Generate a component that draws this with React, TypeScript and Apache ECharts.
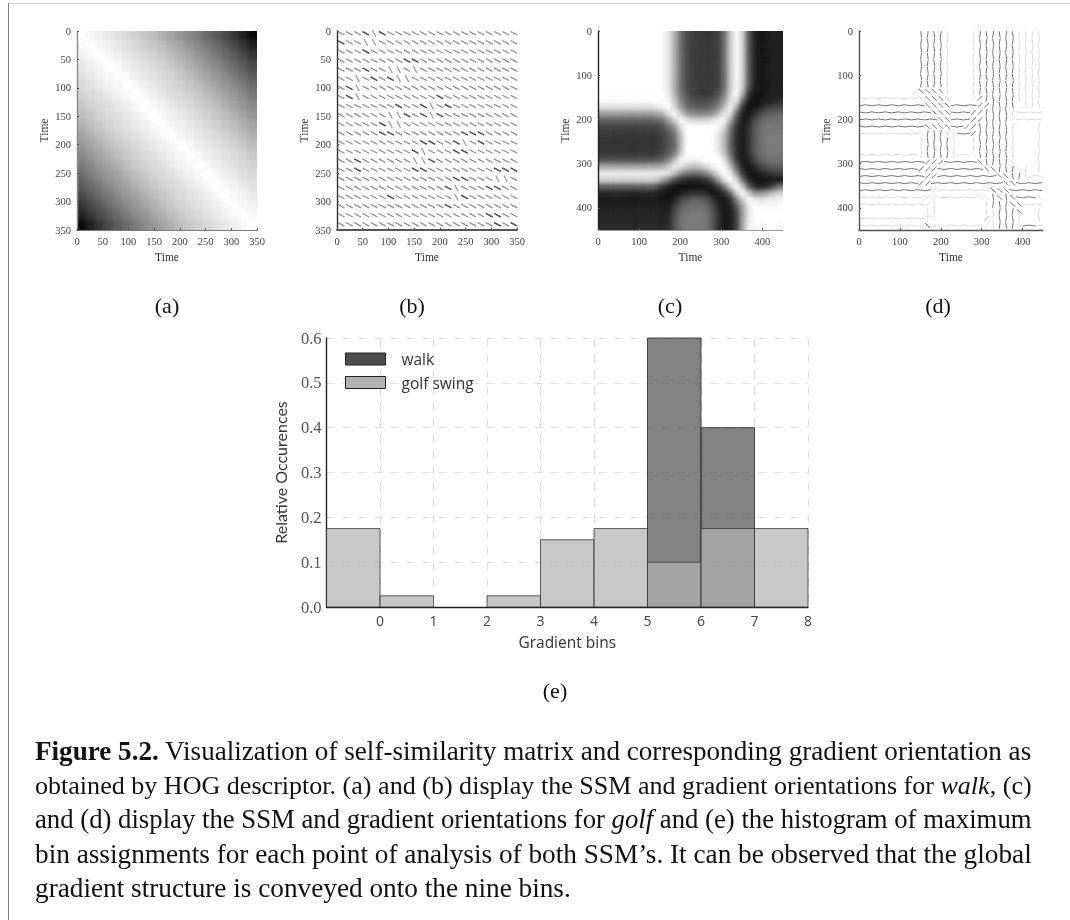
import React, { useEffect, useRef } from "react";
import * as echarts from "echarts";

// Panel (a): SSM for walk, lightness 0-100, cells of 17.5 time units
const ssmWalk = [
  [100,97,94,91,88,85,82,78,74,69,64,59,54,48,42,36,29,21,13,4],
  [97,100,97,94,91,88,85,82,78,74,69,64,59,54,48,42,36,29,21,13],
  [94,97,100,97,94,91,88,85,82,78,74,69,64,59,54,48,42,36,29,21],
  [91,94,97,100,97,94,91,88,85,82,78,74,69,64,59,54,48,42,36,29],
  [88,91,94,97,100,97,94,91,88,85,82,78,74,69,64,59,54,48,42,36],
  [85,88,91,94,97,100,97,94,91,88,85,82,78,74,69,64,59,54,48,42],
  [82,85,88,91,94,97,100,97,94,91,88,85,82,78,74,69,64,59,54,48],
  [78,82,85,88,91,94,97,100,97,94,91,88,85,82,78,74,69,64,59,54],
  [74,78,82,85,88,91,94,97,100,97,94,91,88,85,82,78,74,69,64,59],
  [69,74,78,82,85,88,91,94,97,100,97,94,91,88,85,82,78,74,69,64],
  [64,69,74,78,82,85,88,91,94,97,100,97,94,91,88,85,82,78,74,69],
  [59,64,69,74,78,82,85,88,91,94,97,100,97,94,91,88,85,82,78,74],
  [54,59,64,69,74,78,82,85,88,91,94,97,100,97,94,91,88,85,82,78],
  [48,54,59,64,69,74,78,82,85,88,91,94,97,100,97,94,91,88,85,82],
  [42,48,54,59,64,69,74,78,82,85,88,91,94,97,100,97,94,91,88,85],
  [36,42,48,54,59,64,69,74,78,82,85,88,91,94,97,100,97,94,91,88],
  [29,36,42,48,54,59,64,69,74,78,82,85,88,91,94,97,100,97,94,91],
  [21,29,36,42,48,54,59,64,69,74,78,82,85,88,91,94,97,100,97,94],
  [13,21,29,36,42,48,54,59,64,69,74,78,82,85,88,91,94,97,100,97],
  [4,13,21,29,36,42,48,54,59,64,69,74,78,82,85,88,91,94,97,100],
];

// Panel (c): SSM for golf swing, lightness 0-100, cells of 15 time units
const ssmGolf = [
  [100,100,100,100,100,100,100,100,100,100,98,90,68,42,28,24,22,22,22,25,42,78,98,82,35,12,8,10,12,12],
  [100,100,100,100,100,100,100,100,100,100,98,90,68,42,28,24,22,22,22,25,42,78,98,82,35,12,8,10,12,12],
  [100,100,100,100,100,100,100,100,100,100,98,90,68,42,28,24,22,22,22,25,42,78,98,82,35,12,8,10,12,12],
  [100,100,100,100,100,100,100,100,100,100,98,90,68,42,28,24,22,22,22,25,42,78,98,82,35,12,8,10,12,12],
  [100,100,100,100,100,100,100,100,100,100,98,90,68,42,28,24,22,22,22,25,42,78,98,82,35,12,8,10,12,12],
  [100,100,100,100,100,100,100,100,100,100,98,90,68,42,28,24,22,22,22,25,42,78,98,82,35,12,8,10,12,12],
  [100,100,100,100,100,100,100,100,100,100,98,90,68,42,28,24,22,22,22,25,42,78,98,82,35,12,8,10,12,12],
  [100,100,100,100,100,100,100,100,100,100,98,90,68,42,28,24,22,22,22,25,42,78,98,82,35,12,8,10,12,12],
  [100,100,100,100,100,100,100,100,100,100,98,90,68,42,28,24,22,22,22,25,42,78,98,80,32,10,8,10,12,12],
  [100,100,100,100,100,100,100,100,100,100,100,92,70,45,30,25,22,22,24,30,48,82,98,70,20,8,6,10,12,12],
  [98,98,98,98,98,98,98,98,98,100,100,95,78,52,36,30,28,28,32,40,58,88,92,45,12,6,8,10,14,16],
  [88,88,88,88,88,88,88,88,88,90,95,100,82,60,44,38,36,36,40,50,72,95,70,22,6,8,14,22,26,28],
  [62,62,62,62,62,62,62,62,62,65,70,88,100,78,60,55,52,52,56,70,90,90,42,12,8,18,28,36,38,38],
  [38,38,38,38,38,38,38,38,38,40,46,62,82,100,88,84,84,84,88,94,96,68,28,10,14,28,38,42,44,44],
  [26,26,26,26,26,26,26,26,26,27,32,46,60,88,100,100,100,100,100,98,85,50,20,10,18,34,42,46,46,46],
  [22,22,22,22,22,22,22,22,22,22,27,35,48,78,100,100,100,100,100,92,75,42,18,10,20,36,44,47,47,47],
  [20,20,20,20,20,20,20,20,20,20,25,32,42,74,100,100,100,100,100,90,72,40,18,10,20,36,44,48,48,48],
  [20,20,20,20,20,20,20,20,20,20,25,32,42,74,100,100,100,100,100,90,72,40,18,10,20,36,44,48,48,48],
  [22,22,22,22,22,22,22,22,22,22,27,36,50,80,100,100,100,100,100,94,78,45,18,10,18,34,42,46,46,46],
  [32,32,32,32,32,32,32,32,32,34,40,54,76,96,96,94,96,100,100,100,90,58,24,10,14,28,38,42,44,44],
  [65,65,65,65,65,65,65,65,65,66,68,78,92,88,78,74,76,84,94,100,98,75,38,12,8,16,26,34,36,36],
  [92,92,92,92,92,92,92,92,92,92,92,90,75,55,45,42,44,52,68,88,100,92,60,22,8,8,12,18,22,24],
  [82,82,82,82,82,82,82,82,82,78,65,48,30,20,16,14,14,20,32,58,85,100,85,45,16,8,6,8,10,10],
  [38,38,38,38,38,38,38,38,38,34,22,12,8,6,6,6,6,8,12,24,48,80,100,78,38,18,12,18,30,45],
  [14,14,14,14,14,14,14,14,14,12,8,6,6,10,16,18,18,16,8,8,18,40,80,100,78,58,58,66,76,82],
  [10,10,10,10,10,10,10,10,10,10,8,8,14,28,35,38,38,34,24,10,8,18,50,80,100,92,90,92,94,96],
  [12,12,12,12,12,12,12,12,12,12,10,12,24,36,42,44,44,42,32,16,8,12,34,66,92,100,98,98,98,98],
  [14,14,14,14,14,14,14,14,14,14,12,14,30,42,46,47,48,46,36,20,8,10,28,62,90,100,100,100,100,100],
  [14,14,14,14,14,14,14,14,14,14,12,16,32,44,47,48,48,46,36,20,8,10,26,64,92,98,100,100,100,100],
  [16,16,16,16,16,16,16,16,16,16,14,18,32,44,47,48,48,46,36,20,8,10,26,66,94,98,98,100,100,96],
];

// Panel (b): gradient glyph per cell. 0 normal, 1 dark, 2 steep
const gradWalk = [
  [0,0,0,1,2,1,0,0,0,0,0,0,0,0,0,0,0,0,0,0,0,0],
  [1,0,0,2,2,0,0,0,0,0,0,0,0,0,0,0,0,0,0,0,0,0],
  [0,0,0,1,0,0,0,0,0,0,0,0,0,0,0,0,0,0,0,0,0,0],
  [0,0,0,0,0,0,0,0,1,1,0,0,0,0,0,0,0,0,0,0,0,0],
  [0,0,0,1,0,0,2,2,0,2,0,0,0,0,0,0,0,0,0,0,0,0],
  [0,0,2,0,1,0,1,2,2,0,0,0,0,0,0,0,0,0,0,0,0,0],
  [0,1,2,0,0,0,0,0,0,0,0,0,0,0,0,0,0,0,0,0,0,0],
  [0,1,2,0,0,0,0,0,0,0,0,0,1,0,0,0,0,0,0,0,0,0],
  [0,0,0,0,0,0,0,1,0,0,1,2,0,1,0,0,0,0,0,0,0,0],
  [0,0,0,0,0,0,2,2,1,0,1,2,1,0,0,0,0,0,0,0,0,0],
  [0,0,0,0,0,1,2,2,0,0,0,0,0,0,0,0,0,0,0,0,0,0],
  [0,0,0,0,0,1,1,0,0,0,0,0,0,0,0,1,1,1,0,0,0,0],
  [0,0,0,0,0,0,0,0,0,0,1,1,0,0,1,2,0,1,0,0,0,0],
  [0,0,0,0,0,0,0,0,0,1,2,0,0,0,1,1,0,0,0,0,0,0],
  [0,0,1,0,0,0,0,0,0,2,2,1,0,0,0,0,0,0,0,0,0,0],
  [0,0,1,0,0,0,0,0,0,1,1,0,0,0,0,0,0,0,0,1,1,1],
  [0,0,0,0,0,0,0,0,0,0,0,0,0,0,1,1,0,0,0,2,2,0],
  [0,0,0,0,0,0,0,0,0,0,0,0,0,1,2,0,0,0,1,1,0,0],
  [0,0,0,0,0,0,1,0,0,0,0,0,0,0,2,1,0,0,0,0,0,0],
  [0,0,0,0,0,0,0,0,0,0,0,0,0,1,0,0,0,0,0,0,0,0],
  [0,0,0,0,0,0,0,0,0,0,0,0,0,0,0,0,0,0,1,1,0,0],
  [0,0,0,0,0,0,0,0,0,0,0,0,0,0,0,0,0,0,0,1,0,1],
];

// Panel (d): 0 none, 1 H, 2 V, 3 "\", 4 "/", 5 faint H, 6 faint V, 7 faint "\", 8 faint "/"
const gradGolf = [
  [0,0,0,0,0,0,0,0,0,2,2,2,2,6,0,0,0,6,2,2,2,2,2,2,6,6,6,6],
  [0,0,0,0,0,0,0,0,0,2,2,2,2,6,0,0,0,6,2,2,2,2,2,2,6,6,6,6],
  [0,0,0,0,0,0,0,0,0,2,2,2,2,6,0,0,0,6,2,2,2,2,2,2,6,6,6,6],
  [0,0,0,0,0,0,0,0,0,2,2,2,2,6,0,0,0,6,2,2,2,2,2,2,6,6,6,6],
  [0,0,0,0,0,0,0,0,0,2,2,2,2,6,0,0,0,6,2,2,2,2,2,2,6,6,6,6],
  [0,0,0,0,0,0,0,0,0,2,2,2,2,6,0,0,0,6,2,2,2,2,2,2,6,6,6,6],
  [0,0,0,0,0,0,0,0,0,2,2,2,2,6,0,0,0,6,2,2,2,2,2,2,6,6,6,6],
  [0,0,0,0,0,0,0,0,0,2,2,2,2,6,0,0,0,6,2,2,2,2,2,2,6,6,6,6],
  [0,0,0,0,0,0,0,0,0,3,3,3,3,6,0,0,0,6,2,2,2,2,2,2,6,6,6,6],
  [5,5,5,5,5,5,5,5,5,7,3,3,3,7,0,0,0,8,4,2,2,2,2,2,6,6,6,6],
  [1,1,1,1,1,1,1,1,1,1,3,3,3,3,1,1,1,1,4,4,2,2,2,2,0,6,6,6],
  [1,1,1,1,1,1,1,1,1,1,1,3,3,3,1,1,1,4,4,2,2,2,2,6,5,5,5,5],
  [1,1,1,1,1,1,1,1,1,1,1,1,3,3,1,1,1,4,4,2,2,2,2,8,5,5,5,5],
  [1,1,1,1,1,1,1,1,1,1,3,3,3,3,1,1,4,4,2,2,2,2,2,6,0,0,0,6],
  [5,5,5,5,5,5,5,5,5,7,2,2,2,6,6,1,1,4,2,2,2,2,2,6,0,0,0,6],
  [0,0,0,0,0,0,0,0,0,6,2,2,2,2,6,0,0,6,2,2,2,2,2,6,0,0,0,6],
  [0,0,0,0,0,0,0,0,0,6,2,2,2,2,6,0,0,6,2,2,2,2,2,6,0,0,0,6],
  [5,5,5,5,5,5,5,5,5,6,2,2,2,2,6,5,5,7,2,2,2,2,2,6,0,0,0,6],
  [1,1,1,1,1,1,1,1,1,1,4,4,4,1,1,1,1,1,3,2,2,2,2,7,0,0,0,6],
  [1,1,1,1,1,1,1,1,1,4,4,4,1,1,1,1,1,1,1,3,3,2,2,2,7,6,0,6],
  [1,1,1,1,1,1,1,1,1,1,4,4,1,1,1,1,1,1,1,1,1,3,3,2,2,7,5,5],
  [1,1,1,1,1,1,1,1,1,4,4,1,1,1,1,1,1,1,1,1,1,1,3,3,1,1,1,1],
  [1,1,1,1,1,1,1,1,1,1,1,8,5,5,5,5,5,5,5,5,3,3,3,1,1,1,1,1],
  [5,5,5,5,5,5,5,5,5,5,8,8,5,5,5,5,5,5,7,7,2,3,2,3,1,1,1,7],
  [5,5,5,5,5,5,5,5,5,5,8,6,0,0,0,0,0,0,0,6,2,2,2,3,3,5,5,5],
  [0,0,0,0,0,0,0,0,0,0,6,6,0,0,0,0,0,0,0,6,6,2,2,2,3,0,0,6],
  [5,5,5,5,5,5,5,5,5,5,6,7,0,0,0,0,0,0,0,8,6,2,2,2,6,0,0,6],
  [5,5,5,5,5,5,5,5,5,5,3,7,5,5,5,5,5,5,5,8,6,2,2,2,6,1,1,5],
];

// Panel (e): histogram
const binStarts = [-1, 0, 1, 2, 3, 4, 5, 6, 7];
const golfValues = [0.175, 0.025, 0, 0.025, 0.15, 0.175, 0.1, 0.175, 0.175];
const walkValues = [0, 0, 0, 0, 0, 0, 0.6, 0.4, 0];
const histTicksY = [0, 0.1, 0.2, 0.3, 0.4, 0.5, 0.6];

const captionLines: { t: string; s: string }[][] = [
  [{ t: "Figure 5.2.", s: "b" }, { t: " Visualization of self-similarity matrix and corresponding gradient orientation as", s: "r" }],
  [{ t: "obtained by HOG descriptor. (a) and (b) display the SSM and gradient orientations for ", s: "r" }, { t: "walk", s: "i" }, { t: ", (c)", s: "r" }],
  [{ t: "and (d) display the SSM and gradient orientations for ", s: "r" }, { t: "golf", s: "i" }, { t: " and (e) the histogram of maximum", s: "r" }],
  [{ t: "bin assignments for each point of analysis of both SSM’s. It can be observed that the global", s: "r" }],
  [{ t: "gradient structure is conveyed onto the nine bins.", s: "r" }],
];
const captionY = [751, 785, 819, 854, 888];
const panelLabels = [
  { t: "(a)", x: 167, y: 305 },
  { t: "(b)", x: 412, y: 305 },
  { t: "(c)", x: 670, y: 305 },
  { t: "(d)", x: 938, y: 305 },
  { t: "(e)", x: 555, y: 690 },
];

const rectA = { left: 77, top: 31, width: 180, height: 199 };
const rectB = { left: 337, top: 31, width: 180, height: 199 };
const rectC = { left: 598, top: 31, width: 185, height: 199 };
const rectD = { left: 859, top: 31, width: 184, height: 199 };
const rectE = { left: 326.5, top: 338, width: 481.5, height: 269 };

const SERIF = '"Liberation Serif"';
const SANS = '"Open Sans"';

function cellsOf(m: number[][], size: number, off = 0) {
  const out: number[][] = [];
  m.forEach((row, r) => row.forEach((v, c) => out.push([c * size + off, r * size + off, size, v])));
  return out;
}

const heatItem = (n: number) => (_p: any, api: any) => {
  const x0 = api.value(0), y0 = api.value(1), s = api.value(2), v = api.value(3);
  const a = api.coord([x0, y0]);
  const b = api.coord([x0 + s, y0 + s]);
  const bleed = 10;
  const c = Math.round(x0 / s), r = Math.round(y0 / s);
  const left = c === 0 ? a[0] - bleed : a[0];
  const top = r === 0 ? a[1] - bleed : a[1];
  const right = c === n - 1 ? b[0] + bleed : b[0];
  const bottom = r === n - 1 ? b[1] + bleed : b[1];
  const g = Math.round((v / 100) * 255);
  const col = `rgb(${g},${g},${g})`;
  return {
    type: "rect",
    shape: { x: left, y: top, width: right - left, height: bottom - top },
    style: { fill: col, stroke: col, lineWidth: 0.6 },
  };
};

const dashWalk = (_p: any, api: any) => {
  const p = api.coord([api.value(0), api.value(1)]);
  const code = api.value(3);
  const ang = ((code === 2 ? 62 : 28) * Math.PI) / 180;
  const L = 3.8;
  const dx = Math.cos(ang) * L, dy = Math.sin(ang) * L;
  return {
    type: "line",
    shape: { x1: p[0] - dx, y1: p[1] - dy, x2: p[0] + dx, y2: p[1] + dy },
    style: { stroke: code === 1 ? "#505050" : code === 2 ? "#999999" : "#8c8c8c", lineWidth: code === 1 ? 1.5 : 1.2 },
  };
};

const dashGolf = (params: any, api: any) => {
  const code = api.value(3);
  if (!code) return null;
  const p = api.coord([api.value(0), api.value(1)]);
  const kind = code > 4 ? code - 4 : code;
  const faint = code > 4;
  const L = 3.3;
  const w = Math.round((api.value(0) + api.value(1)) / 16) % 2 === 0 ? 0.5 : -0.5;
  const dirs: Record<number, number[]> = { 1: [L, w], 2: [w, L], 3: [L * 0.72, L * 0.72], 4: [L * 0.72, -L * 0.72] };
  const [dx, dy] = dirs[kind];
  return {
    type: "line",
    shape: { x1: p[0] - dx, y1: p[1] - dy, x2: p[0] + dx, y2: p[1] + dy },
    style: { stroke: faint ? "#dcdcdc" : "#777777", lineWidth: faint ? 1 : 1 },
  };
};

const barItem = (fill: string, stroke: string) => (_p: any, api: any) => {
  const s = api.value(0), e = api.value(1), v = api.value(2);
  if (!v) return null;
  const a = api.coord([s, v]);
  const b = api.coord([e, 0]);
  return {
    type: "rect",
    shape: { x: a[0], y: a[1], width: b[0] - a[0], height: b[1] - a[1] },
    style: { fill, stroke, lineWidth: 1 },
  };
};

const hiddenAxes = (max: number) => ({
  x: { type: "value", show: false, min: 0, max },
  y: { type: "value", show: false, min: 0, max, inverse: true },
});

function layerOption(rects: any[], maxes: number[], series: any[]) {
  return {
    animation: false,
    grid: rects.map((r) => ({ ...r, containLabel: false })),
    xAxis: maxes.map((m, i) => ({ ...hiddenAxes(m).x, gridIndex: i })),
    yAxis: maxes.map((m, i) => ({ ...hiddenAxes(m).y, gridIndex: i })),
    series,
  };
}

function panelAxes(gridIndex: number, max: number, interval: number, axisColor: string, bottomColor: string, bottomWidth: number) {
  const label = {
    fontFamily: SERIF, fontSize: 10.5, color: "#444", margin: 6, showMaxLabel: max % interval === 0,
  };
  const nameCommon = {
    name: "Time", nameLocation: "middle",
    nameTextStyle: { fontFamily: SERIF, fontSize: 11.5, color: "#333" },
  };
  return {
    x: {
      type: "value", gridIndex, min: 0, max, interval, position: "bottom", ...nameCommon, nameGap: 21,
      axisLabel: label,
      axisLine: { show: true, onZero: false, lineStyle: { color: bottomColor, width: bottomWidth } },
      axisTick: { show: true, inside: true, length: 2, lineStyle: { color: "#555" } },
      splitLine: { show: false },
    },
    y: {
      type: "value", gridIndex, min: 0, max, interval, inverse: true, position: "left", ...nameCommon, nameGap: 27,
      axisLabel: { ...label, margin: 6 },
      axisLine: { show: true, onZero: false, lineStyle: { color: axisColor, width: 1.4 } },
      axisTick: { show: true, inside: true, length: 2, lineStyle: { color: "#555" } },
      splitLine: { show: false },
    },
  };
}

function captionGraphics() {
  const ctx = document.createElement("canvas").getContext("2d") as CanvasRenderingContext2D;
  const fontOf = (s: string) =>
    `${s === "b" ? "bold " : s === "i" ? "italic " : ""}100px ${SERIF}`;
  const measure = (segs: { t: string; s: string }[]) =>
    segs.reduce((sum, seg) => {
      ctx.font = fontOf(seg.s);
      return sum + ctx.measureText(seg.t).width;
    }, 0);
  const target = 997;
  let last = 23;
  return captionLines.map((segs, i) => {
    const size = i < 4 ? (100 * target) / measure(segs) : last;
    last = size;
    return {
      type: "text", x: 35, y: captionY[i], silent: true,
      style: {
        text: segs.map((g) => `{${g.s}|${g.t}}`).join(""),
        verticalAlign: "middle", align: "left",
        fill: "#111",
        rich: {
          r: { fontFamily: SERIF, fontSize: size, color: "#111" },
          b: { fontFamily: SERIF, fontSize: size, fontWeight: "bold", color: "#111" },
          i: { fontFamily: SERIF, fontSize: size, fontStyle: "italic", color: "#111" },
        },
      },
    };
  });
}

export default function App() {
  const heatRef = useRef<HTMLDivElement>(null);
  const glyphRef = useRef<HTMLDivElement>(null);
  const mainRef = useRef<HTMLDivElement>(null);

  useEffect(() => {
    const heat = echarts.init(heatRef.current!, undefined, { renderer: "svg" });
    const glyph = echarts.init(glyphRef.current!, undefined, { renderer: "svg" });
    const main = echarts.init(mainRef.current!, undefined, { renderer: "svg" });

    heat.setOption(
      layerOption([rectA, rectC], [350, 450], [
        { type: "custom", xAxisIndex: 0, yAxisIndex: 0, silent: true, renderItem: heatItem(ssmWalk.length), data: cellsOf(ssmWalk, 17.5), encode: { x: 0, y: 1 } },
        { type: "custom", xAxisIndex: 1, yAxisIndex: 1, silent: true, renderItem: heatItem(ssmGolf.length), data: cellsOf(ssmGolf, 15), encode: { x: 0, y: 1 } },
      ])
    );

    const walkGlyphs = gradWalk.flatMap((row, r) => row.map((v, c) => [8 + c * 16, 4 + r * 16, 16, v]));
    const golfGlyphs = gradGolf.flatMap((row, r) => row.map((v, c) => [8 + c * 16, 8 + r * 16, 16, v]));
    glyph.setOption(
      layerOption([rectB, rectD], [350, 450], [
        { type: "custom", xAxisIndex: 0, yAxisIndex: 0, silent: true, renderItem: dashWalk, data: walkGlyphs, encode: { x: 0, y: 1 } },
        { type: "custom", xAxisIndex: 1, yAxisIndex: 1, silent: true, renderItem: dashGolf, data: golfGlyphs, encode: { x: 0, y: 1 } },
      ])
    );

    const pa = panelAxes(0, 350, 50, "#8a8a8a", "#777", 1.2);
    const pb = panelAxes(1, 350, 50, "#333", "#555", 1.8);
    const pc = panelAxes(2, 450, 100, "#222", "#999", 1);
    const pd = panelAxes(3, 450, 100, "#555", "#555", 1.4);

    main.setOption({
      animation: false,
      grid: [rectA, rectB, rectC, rectD, rectE],
      xAxis: [
        pa.x, pb.x, pc.x, pd.x,
        {
          type: "value", gridIndex: 4, min: -1, max: 8, interval: 1,
          name: "Gradient bins", nameLocation: "middle", nameGap: 27,
          nameTextStyle: { fontFamily: SANS, fontSize: 15.5, color: "#333" },
          axisLine: { show: true, onZero: false, lineStyle: { color: "#222", width: 1.4 } },
          axisTick: { show: false },
          axisLabel: {
            fontFamily: SANS, fontSize: 14, color: "#444", margin: 6,
            formatter: (v: number) => (v < 0 ? "" : String(v)),
          },
          splitLine: { show: true, lineStyle: { type: [8, 8], color: "#dddddd", width: 1 } },
        },
      ],
      yAxis: [
        pa.y, pb.y, pc.y, pd.y,
        {
          type: "value", gridIndex: 4, min: 0, max: 0.6, interval: histTicksY[1],
          name: "Relative Occurences", nameLocation: "middle", nameGap: 38,
          nameTextStyle: { fontFamily: "Lato", fontSize: 16, color: "#333" },
          axisLine: { show: true, onZero: false, lineStyle: { color: "#222", width: 1.4 } },
          axisTick: { show: false },
          axisLabel: {
            fontFamily: SERIF, fontSize: 16.5, color: "#555", margin: 5,
            formatter: (v: number) => v.toFixed(1),
          },
          splitLine: { show: true, lineStyle: { type: [8, 8], color: "#dddddd", width: 1 } },
        },
      ],
      legend: {
        left: 340, top: 346, orient: "vertical", selectedMode: false,
        itemWidth: 40, itemHeight: 12, itemGap: 7.5, align: "left",
        textStyle: { fontFamily: SANS, fontSize: 15.5, color: "#333", padding: [0, 0, 0, 11] },
        data: [
          { name: "walk", icon: "rect", itemStyle: { color: "#4d4d4d", borderColor: "#222", borderWidth: 1 } },
          { name: "golf swing", icon: "rect", itemStyle: { color: "#b2b2b2", borderColor: "#222", borderWidth: 1 } },
        ],
      },
      series: [
        {
          type: "custom", name: "walk", xAxisIndex: 4, yAxisIndex: 4, silent: true, z: 3,
          renderItem: barItem("rgba(77,77,77,0.7)", "rgba(40,40,40,0.8)"),
          data: binStarts.map((s, i) => [s, s + 1, walkValues[i]]),
          encode: { x: [0, 1], y: 2 },
        },
        {
          type: "custom", name: "golf swing", xAxisIndex: 4, yAxisIndex: 4, silent: true, z: 4,
          renderItem: barItem("rgba(176,176,176,0.7)", "rgba(50,50,50,0.75)"),
          data: binStarts.map((s, i) => [s, s + 1, golfValues[i]]),
          encode: { x: [0, 1], y: 2 },
        },
      ],
      graphic: [
        { type: "line", silent: true, shape: { x1: 8, y1: 3.5, x2: 1070, y2: 3.5 }, style: { stroke: "#d0d0d0", lineWidth: 1 } },
        { type: "line", silent: true, shape: { x1: 8.5, y1: 3, x2: 8.5, y2: 920 }, style: { stroke: "#808080", lineWidth: 1 } },
        ...panelLabels.map((p) => ({
          type: "text", x: p.x, y: p.y, silent: true,
          style: { text: p.t, fontFamily: SERIF, fontSize: 22, fill: "#111", align: "center", verticalAlign: "middle" },
        })),
        ...captionGraphics(),
      ],
    });

    return () => {
      heat.dispose();
      glyph.dispose();
      main.dispose();
    };
  }, []);

  const layer: React.CSSProperties = { position: "absolute", left: 0, top: 0, width: 1070, height: 920 };
  const clip = `path("M${rectA.left} ${rectA.top}h${rectA.width}v${rectA.height}h-${rectA.width}z M${rectC.left} ${rectC.top}h${rectC.width}v${rectC.height}h-${rectC.width}z")`;
  return (
    <div style={{ position: "absolute", left: 0, top: 0, width: 1070, height: 920, background: "#fff", overflow: "hidden" }}>
      <div style={{ ...layer, clipPath: clip }}>
        <div ref={heatRef} style={{ ...layer, filter: "blur(2px)" }} />
      </div>
      <div ref={glyphRef} style={{ ...layer, filter: "blur(0.6px)" }} />
      <div ref={mainRef} style={{ ...layer, filter: "blur(0.3px)" }} />
    </div>
  );
}
